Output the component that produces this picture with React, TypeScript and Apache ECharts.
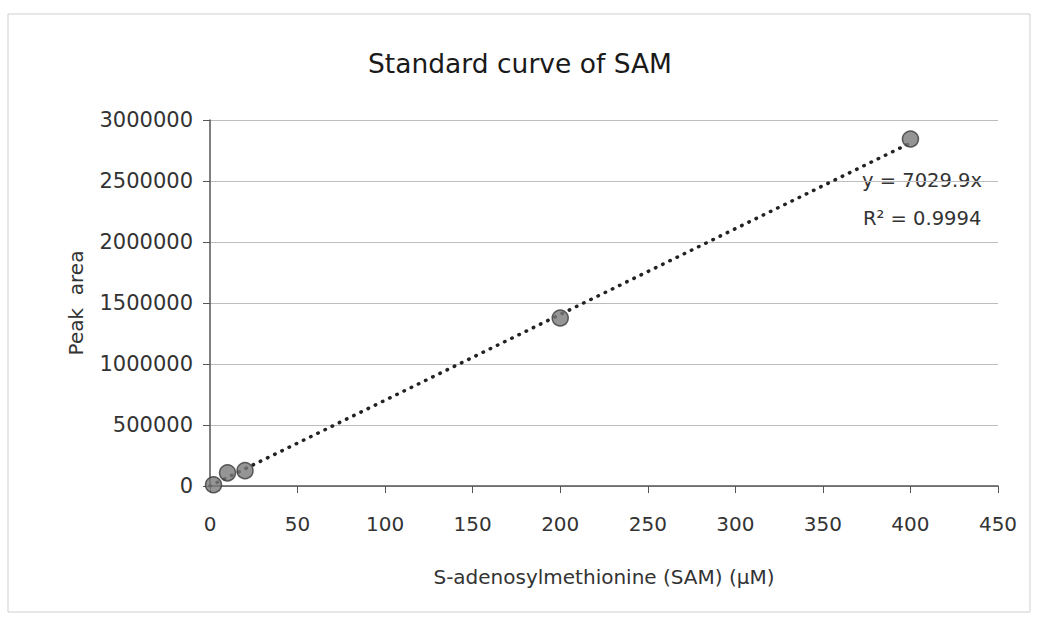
import React, { useEffect, useRef } from "react";
import * as echarts from "echarts";

const concentrations = [2, 10, 20, 200, 400];
const peakAreas = [10000, 108000, 126000, 1377000, 2844000];
const slope = 7029.9;
const trendX = [0, 400];
const equationText = "y = 7029.9x";
const r2Text = "R² = 0.9994";
const titleText = "Standard curve of SAM";
const xAxisName = "S-adenosylmethionine (SAM) (μM)";
const yAxisName = "Peak  area";

export default function App() {
  const ref = useRef<HTMLDivElement>(null);
  useEffect(() => {
    if (!ref.current) return;
    const chart = echarts.init(ref.current, undefined, { renderer: "svg" });
    const font = "'DejaVu Sans', 'Noto Sans', sans-serif";
    chart.setOption({
      animation: false,
      backgroundColor: "#ffffff",
      title: {
        text: titleText,
        left: "center",
        top: 45,
        textStyle: { fontFamily: font, fontSize: 26.5, fontWeight: "normal", color: "#1a1a1a" },
      },
      grid: { left: 210, right: 42, top: 120, bottom: 136 },
      xAxis: {
        type: "value",
        min: 0,
        max: 450,
        interval: 50,
        name: xAxisName,
        nameLocation: "middle",
        nameGap: 81,
        nameTextStyle: { fontFamily: font, fontSize: 20, color: "#333" },
        axisLine: { show: true, onZero: false, lineStyle: { color: "#555", width: 1.5 } },
        axisTick: { show: true, length: 7, lineStyle: { color: "#555" } },
        axisLabel: { fontFamily: font, fontSize: 20, color: "#333", margin: 28 },
        splitLine: { show: false },
      },
      yAxis: {
        type: "value",
        min: 0,
        max: 3000000,
        interval: 500000,
        name: yAxisName,
        nameLocation: "middle",
        nameGap: 124,
        nameTextStyle: { fontFamily: font, fontSize: 20, color: "#333" },
        axisLine: { show: true, lineStyle: { color: "#555", width: 1.5 } },
        axisTick: { show: true, length: 7, lineStyle: { color: "#555" } },
        axisLabel: {
          fontFamily: font,
          fontSize: 21,
          color: "#333",
          margin: 17,
          formatter: (v: number) => String(v),
        },
        splitLine: { show: true, lineStyle: { color: "#bdbdbd", width: 1 } },
      },
      series: [
        {
          type: "line",
          data: trendX.map((x) => [x, slope * x]),
          symbol: "none",
          lineStyle: { color: "#222", width: 3.5, type: [0.5, 7.5], cap: "round" },
          z: 2,
        },
        {
          type: "scatter",
          data: concentrations.map((c, i) => [c, peakAreas[i]]),
          symbol: "circle",
          symbolSize: 16,
          itemStyle: { color: "#7a7a7a", borderColor: "#3a3a3a", borderWidth: 1.5 },
          z: 3,
        },
      ],
      graphic: [
        {
          type: "rect",
          shape: { x: 8, y: 14, width: 1022, height: 598 },
          style: { fill: "none", stroke: "#cfcfcf", lineWidth: 1 },
          silent: true,
        },
        {
          type: "text",
          left: 862,
          top: 170,
          style: { text: equationText, fontFamily: font, fontSize: 19.5, fill: "#333" },
        },
        {
          type: "text",
          left: 863,
          top: 208,
          style: { text: r2Text, fontFamily: font, fontSize: 19.5, fill: "#333" },
        },
      ],
    });
    return () => chart.dispose();
  }, []);
  return (
    <div
      ref={ref}
      style={{ position: "absolute", left: 0, top: 0, width: 1040, height: 622 }}
    />
  );
}
